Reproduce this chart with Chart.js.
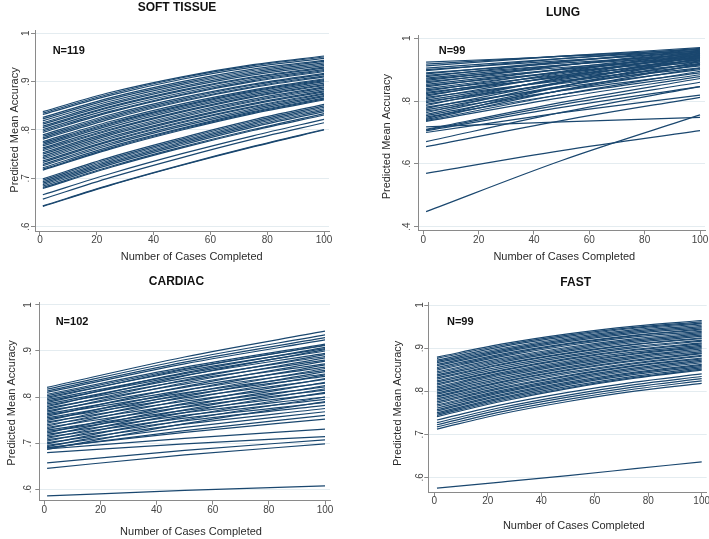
<!DOCTYPE html>
<html>
<head>
<meta charset="utf-8">
<script src="https://cdn.jsdelivr.net/npm/chart.js@4.4.1/dist/chart.umd.min.js"></script>
<style>
  html, body { margin: 0; padding: 0; background: #fff; }
  #wrap { position: relative; width: 709px; height: 539px; overflow: hidden; }
  canvas { position: absolute; }
</style>
</head>
<body>
<div id="wrap">
  <canvas id="soft" width="355" height="270" style="left:0;top:0;width:355px;height:270px"></canvas>
  <canvas id="lung" width="354" height="270" style="left:355px;top:0;width:354px;height:270px"></canvas>
  <canvas id="cardiac" width="355" height="269" style="left:0;top:270px;width:355px;height:269px"></canvas>
  <canvas id="fast" width="354" height="269" style="left:355px;top:270px;width:354px;height:269px"></canvas>
</div>
<script>
// ---- data: one value per line at each case count listed in the *X array ----
const xTicks = [0, 20, 40, 60, 80, 100];
const xTickLabels = ["0", "20", "40", "60", "80", "100"];

// SOFT TISSUE  (read at cases 1, 25, 50, 75, 100)
const softX = [1, 25, 50, 75, 100];
const softStart = [0.838, 0.835, 0.832, 0.826, 0.823, 0.819, 0.815, 0.812, 0.808, 0.805, 0.801, 0.798, 0.795, 0.790, 0.787, 0.784, 0.781, 0.776, 0.773, 0.770, 0.767, 0.763, 0.760, 0.757, 0.753, 0.750, 0.746, 0.743, 0.740, 0.736, 0.733, 0.729, 0.726, 0.722, 0.719, 0.717, 0.699, 0.696, 0.693, 0.690, 0.687, 0.684, 0.681, 0.679, 0.666, 0.657, 0.643, 0.642];
const softQ1 = [0.878, 0.875, 0.872, 0.867, 0.864, 0.860, 0.856, 0.853, 0.849, 0.847, 0.843, 0.839, 0.837, 0.832, 0.829, 0.826, 0.823, 0.818, 0.815, 0.813, 0.810, 0.806, 0.802, 0.800, 0.796, 0.793, 0.790, 0.786, 0.783, 0.779, 0.777, 0.773, 0.770, 0.766, 0.763, 0.761, 0.744, 0.741, 0.738, 0.735, 0.732, 0.729, 0.725, 0.723, 0.710, 0.702, 0.687, 0.686];
const softMid = [0.910, 0.908, 0.905, 0.900, 0.897, 0.894, 0.890, 0.887, 0.883, 0.881, 0.877, 0.874, 0.872, 0.867, 0.864, 0.861, 0.859, 0.854, 0.851, 0.849, 0.846, 0.843, 0.839, 0.837, 0.833, 0.830, 0.827, 0.823, 0.821, 0.817, 0.815, 0.811, 0.808, 0.804, 0.802, 0.800, 0.784, 0.781, 0.778, 0.775, 0.772, 0.769, 0.765, 0.763, 0.751, 0.743, 0.728, 0.727];
const softQ3 = [0.935, 0.933, 0.930, 0.926, 0.923, 0.920, 0.917, 0.914, 0.910, 0.908, 0.905, 0.902, 0.900, 0.895, 0.893, 0.890, 0.888, 0.883, 0.881, 0.879, 0.876, 0.873, 0.870, 0.868, 0.864, 0.861, 0.859, 0.855, 0.853, 0.849, 0.847, 0.844, 0.841, 0.838, 0.836, 0.834, 0.821, 0.818, 0.815, 0.812, 0.809, 0.806, 0.801, 0.799, 0.788, 0.781, 0.766, 0.765];
const softEnd = [0.953, 0.951, 0.948, 0.944, 0.942, 0.939, 0.936, 0.933, 0.930, 0.928, 0.925, 0.923, 0.921, 0.917, 0.915, 0.912, 0.910, 0.906, 0.904, 0.902, 0.900, 0.897, 0.894, 0.892, 0.889, 0.887, 0.884, 0.881, 0.879, 0.876, 0.874, 0.871, 0.869, 0.866, 0.864, 0.862, 0.853, 0.850, 0.847, 0.844, 0.841, 0.838, 0.834, 0.831, 0.822, 0.815, 0.801, 0.800];
const softYTicks = [1, 0.9, 0.8, 0.7, 0.6];
const softYLabels = ["1", ".9", ".8", ".7", ".6"];

// LUNG  (read at cases 1, 50, 100)
const lungX = [1, 50, 100];
const lungStart = [0.924, 0.918, 0.912, 0.905, 0.900, 0.897, 0.890, 0.887, 0.882, 0.878, 0.873, 0.870, 0.866, 0.862, 0.858, 0.853, 0.849, 0.845, 0.840, 0.836, 0.832, 0.828, 0.824, 0.820, 0.816, 0.812, 0.808, 0.803, 0.799, 0.795, 0.790, 0.786, 0.781, 0.777, 0.772, 0.768, 0.763, 0.758, 0.754, 0.749, 0.745, 0.741, 0.738, 0.735, 0.718, 0.710, 0.708, 0.705, 0.700, 0.671, 0.655, 0.570, 0.448];
const lungMid = [0.942, 0.943, 0.943, 0.935, 0.929, 0.935, 0.921, 0.926, 0.915, 0.925, 0.915, 0.907, 0.914, 0.901, 0.913, 0.901, 0.892, 0.903, 0.892, 0.883, 0.895, 0.876, 0.887, 0.879, 0.891, 0.865, 0.882, 0.869, 0.856, 0.872, 0.859, 0.875, 0.844, 0.861, 0.848, 0.833, 0.859, 0.847, 0.834, 0.821, 0.847, 0.835, 0.821, 0.811, 0.734, 0.796, 0.789, 0.780, 0.763, 0.764, 0.738, 0.642, 0.611];
const lungEnd = [0.958, 0.965, 0.970, 0.962, 0.955, 0.968, 0.948, 0.960, 0.945, 0.966, 0.952, 0.940, 0.957, 0.935, 0.962, 0.944, 0.930, 0.955, 0.938, 0.925, 0.950, 0.918, 0.942, 0.932, 0.958, 0.912, 0.947, 0.928, 0.906, 0.940, 0.920, 0.953, 0.900, 0.935, 0.915, 0.890, 0.945, 0.925, 0.905, 0.884, 0.938, 0.918, 0.895, 0.878, 0.748, 0.872, 0.860, 0.846, 0.819, 0.846, 0.812, 0.706, 0.756];
const lungYTicks = [1, 0.8, 0.6, 0.4];
const lungYLabels = ["1", ".8", ".6", ".4"];

// CARDIAC  (read at cases 1, 50, 100)
const cardX = [1, 50, 100];
const cardStart = [0.821, 0.817, 0.813, 0.810, 0.806, 0.803, 0.800, 0.797, 0.794, 0.791, 0.788, 0.785, 0.782, 0.779, 0.776, 0.773, 0.770, 0.767, 0.764, 0.761, 0.758, 0.755, 0.752, 0.749, 0.746, 0.743, 0.740, 0.737, 0.734, 0.731, 0.728, 0.725, 0.722, 0.719, 0.716, 0.713, 0.710, 0.707, 0.704, 0.701, 0.698, 0.695, 0.692, 0.689, 0.690, 0.686, 0.687, 0.679, 0.657, 0.645, 0.585];
const cardMid = [0.887, 0.881, 0.876, 0.872, 0.865, 0.862, 0.857, 0.860, 0.851, 0.847, 0.853, 0.841, 0.835, 0.846, 0.828, 0.837, 0.821, 0.831, 0.815, 0.809, 0.823, 0.804, 0.798, 0.814, 0.791, 0.807, 0.784, 0.801, 0.778, 0.794, 0.771, 0.766, 0.786, 0.760, 0.779, 0.754, 0.772, 0.748, 0.766, 0.741, 0.758, 0.734, 0.750, 0.727, 0.723, 0.742, 0.710, 0.698, 0.684, 0.674, 0.597];
const cardEnd = [0.943, 0.935, 0.929, 0.924, 0.915, 0.912, 0.905, 0.913, 0.900, 0.895, 0.908, 0.888, 0.880, 0.903, 0.872, 0.892, 0.865, 0.885, 0.858, 0.850, 0.878, 0.845, 0.838, 0.870, 0.830, 0.862, 0.822, 0.855, 0.815, 0.848, 0.808, 0.800, 0.840, 0.795, 0.832, 0.788, 0.825, 0.782, 0.818, 0.775, 0.810, 0.768, 0.800, 0.760, 0.752, 0.790, 0.730, 0.714, 0.707, 0.698, 0.607];
const cardYTicks = [1, 0.9, 0.8, 0.7, 0.6];
const cardYLabels = ["1", ".9", ".8", ".7", ".6"];

// FAST  (read at cases 1, 25, 50, 75, 100)
const fastX = [1, 25, 50, 75, 100];
const fastStart = [0.879, 0.876, 0.872, 0.869, 0.866, 0.862, 0.859, 0.855, 0.852, 0.849, 0.845, 0.842, 0.838, 0.835, 0.831, 0.828, 0.824, 0.821, 0.817, 0.814, 0.810, 0.807, 0.803, 0.800, 0.796, 0.793, 0.789, 0.786, 0.782, 0.779, 0.775, 0.772, 0.768, 0.765, 0.761, 0.757, 0.754, 0.750, 0.747, 0.744, 0.741, 0.733, 0.727, 0.722, 0.717, 0.712, 0.575];
const fastQ1 = [0.909, 0.906, 0.903, 0.899, 0.896, 0.893, 0.890, 0.886, 0.883, 0.880, 0.876, 0.873, 0.870, 0.867, 0.863, 0.861, 0.857, 0.853, 0.849, 0.847, 0.843, 0.840, 0.837, 0.833, 0.829, 0.826, 0.822, 0.820, 0.816, 0.813, 0.809, 0.806, 0.802, 0.799, 0.796, 0.792, 0.789, 0.785, 0.782, 0.779, 0.776, 0.768, 0.762, 0.757, 0.752, 0.747, 0.589];
const fastMid = [0.933, 0.930, 0.927, 0.924, 0.921, 0.918, 0.915, 0.911, 0.909, 0.906, 0.902, 0.899, 0.896, 0.893, 0.889, 0.887, 0.883, 0.880, 0.876, 0.874, 0.870, 0.867, 0.864, 0.861, 0.857, 0.854, 0.850, 0.848, 0.844, 0.841, 0.837, 0.835, 0.831, 0.828, 0.825, 0.821, 0.818, 0.815, 0.811, 0.808, 0.806, 0.797, 0.791, 0.786, 0.781, 0.776, 0.604];
const fastQ3 = [0.951, 0.948, 0.946, 0.943, 0.940, 0.937, 0.934, 0.930, 0.929, 0.926, 0.922, 0.919, 0.916, 0.913, 0.909, 0.908, 0.904, 0.901, 0.897, 0.895, 0.891, 0.888, 0.886, 0.882, 0.879, 0.876, 0.872, 0.870, 0.866, 0.864, 0.860, 0.858, 0.854, 0.851, 0.848, 0.844, 0.842, 0.839, 0.835, 0.832, 0.830, 0.821, 0.815, 0.810, 0.805, 0.800, 0.620];
const fastEnd = [0.964, 0.961, 0.958, 0.956, 0.953, 0.950, 0.947, 0.944, 0.942, 0.939, 0.936, 0.933, 0.930, 0.927, 0.924, 0.922, 0.918, 0.916, 0.912, 0.910, 0.907, 0.904, 0.901, 0.898, 0.895, 0.892, 0.889, 0.887, 0.883, 0.881, 0.877, 0.875, 0.872, 0.869, 0.866, 0.862, 0.860, 0.857, 0.854, 0.851, 0.849, 0.840, 0.834, 0.829, 0.824, 0.818, 0.636];
const fastYTicks = [1, 0.9, 0.8, 0.7, 0.6];
const fastYLabels = ["1", ".9", ".8", ".7", ".6"];

// ---- styling ----
const LINE_COLOR = "#1a476f";
const AXIS_COLOR = "#8a8a8a";
const GRID_COLOR = "#e4ecf0";
const FONT = '"Liberation Sans", Arial, Helvetica, sans-serif';

// Stata-like texts: tick labels, axis titles, panel title, N label
const stataText = {
  id: "stataText",
  afterDraw(chart, args, o) {
    const ctx = chart.ctx;
    const xs = chart.scales.x, ys = chart.scales.y, area = chart.chartArea;
    ctx.save();
    ctx.textAlign = "center";
    ctx.textBaseline = "middle";

    // tick labels
    ctx.fillStyle = "#444";
    ctx.font = "10px " + FONT;
    xTicks.forEach((v, i) => {
      ctx.fillText(xTickLabels[i], xs.getPixelForValue(v), area.bottom + o.xTickGap);
    });
    o.yTicks.forEach((v, i) => {
      ctx.save();
      ctx.translate(area.left - o.yTickGap, ys.getPixelForValue(v));
      ctx.rotate(-Math.PI / 2);
      ctx.fillText(o.yLabels[i], 0, 0);
      ctx.restore();
    });

    // axis titles
    ctx.fillStyle = "#2b2b2b";
    ctx.font = "11px " + FONT;
    ctx.fillText("Number of Cases Completed", o.xTitle[0], o.xTitle[1]);
    ctx.save();
    ctx.translate(o.yTitle[0], o.yTitle[1]);
    ctx.rotate(-Math.PI / 2);
    ctx.fillText("Predicted Mean Accuracy", 0, 0);
    ctx.restore();

    // panel title + N
    ctx.fillStyle = "#111";
    ctx.font = "bold 12px " + FONT;
    ctx.fillText(o.title, o.titlePos[0], o.titlePos[1]);
    ctx.font = "bold 11px " + FONT;
    ctx.fillText(o.nLabel, o.nPos[0], o.nPos[1]);
    ctx.restore();
  }
};

// series: one array per x position, all the same length (one entry per line)
function drawPanel(id, xs, series, box) {
  const datasets = series[0].map((_, i) => ({
    data: xs.map((x, j) => ({ x: x, y: series[j][i] })),
    borderColor: LINE_COLOR,
    borderWidth: 1.2,
    pointRadius: 0,
    cubicInterpolationMode: "monotone",
    fill: false
  }));

  new Chart(document.getElementById(id), {
    type: "line",
    data: { datasets: datasets },
    options: {
      responsive: false,
      animation: false,
      events: [],
      layout: { padding: box.pad, autoPadding: false },
      scales: {
        x: {
          type: "linear",
          min: box.xMin,
          max: box.xMax,
          afterFit: (s) => { s.height = 0; },
          afterBuildTicks: (s) => { s.ticks = xTicks.map((v) => ({ value: v })); },
          ticks: { display: false },
          grid: { drawOnChartArea: false, drawTicks: true, tickLength: 4, tickColor: AXIS_COLOR, lineWidth: 1 },
          border: { display: true, color: AXIS_COLOR, width: 1 }
        },
        y: {
          type: "linear",
          min: box.yMin,
          max: box.yMax,
          afterFit: (s) => { s.width = 0; },
          afterBuildTicks: (s) => { s.ticks = box.yTicks.map((v) => ({ value: v })); },
          ticks: { display: false },
          grid: { color: GRID_COLOR, drawTicks: true, tickLength: 4, tickColor: AXIS_COLOR, lineWidth: 1 },
          border: { display: true, color: AXIS_COLOR, width: 1 }
        }
      },
      plugins: {
        legend: { display: false },
        tooltip: { enabled: false },
        stataText: box
      }
    },
    plugins: [stataText]
  });
}

drawPanel("soft", softX, [softStart, softQ1, softMid, softQ3, softEnd], {
  pad: { left: 35, right: 26, top: 30, bottom: 39 },
  xMin: -1.76, xMax: 101.76, yMin: 0.5911, yMax: 1.0068,
  yTicks: softYTicks, yLabels: softYLabels,
  xTickGap: 9, yTickGap: 8.3,
  xTitle: [191.7, 257], yTitle: [15, 130],
  title: "SOFT TISSUE", titlePos: [177, 7.5],
  nLabel: "N=119", nPos: [68.7, 51]
});

drawPanel("lung", lungX, [lungStart, lungMid, lungEnd], {
  pad: { left: 63, right: 4, top: 35, bottom: 39.5 },
  xMin: -1.92, xMax: 101.8, yMin: 0.3879, yMax: 1.0105,
  yTicks: lungYTicks, yLabels: lungYLabels,
  xTickGap: 9.5, yTickGap: 11,
  xTitle: [209.3, 256.7], yTitle: [31.7, 136.7],
  title: "LUNG", titlePos: [208, 12.8],
  nLabel: "N=99", nPos: [97, 50.7]
});

drawPanel("cardiac", cardX, [cardStart, cardMid, cardEnd], {
  pad: { left: 39.3, right: 25, top: 32, bottom: 38.3 },
  xMin: -1.78, xMax: 101.78, yMin: 0.5746, yMax: 1.0065,
  yTicks: cardYTicks, yLabels: cardYLabels,
  xTickGap: 9.3, yTickGap: 11,
  xTitle: [191, 261.7], yTitle: [11.7, 133],
  title: "CARDIAC", titlePos: [176.5, 11.7],
  nLabel: "N=102", nPos: [72, 51.7]
});

drawPanel("fast", fastX, [fastStart, fastQ1, fastMid, fastQ3, fastEnd], {
  pad: { left: 73.3, right: 2.3, top: 32, bottom: 46.3 },
  xMin: -2.24, xMax: 101.87, yMin: 0.5643, yMax: 1.007,
  yTicks: fastYTicks, yLabels: fastYLabels,
  xTickGap: 9, yTickGap: 8.3,
  xTitle: [218.8, 256], yTitle: [43.3, 133.3],
  title: "FAST", titlePos: [220.7, 12.3],
  nLabel: "N=99", nPos: [105.3, 51.7]
});
</script>
</body>
</html>
